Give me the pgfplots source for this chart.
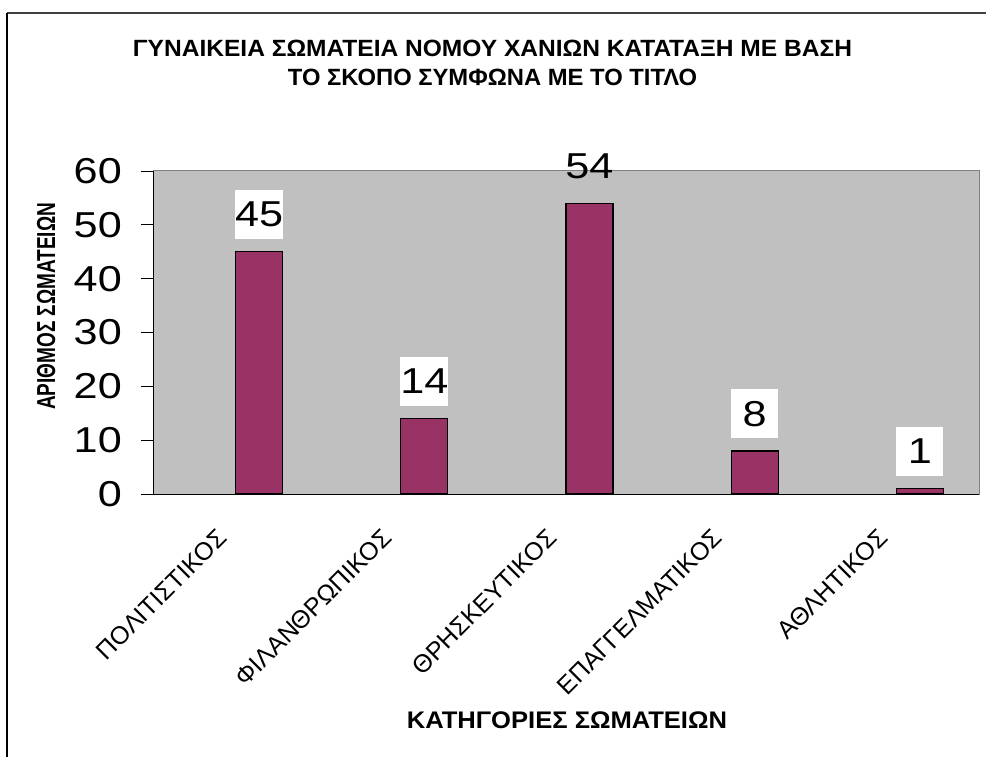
\documentclass[border=0pt]{standalone}
\usepackage{pgfplots}
\pgfplotsset{compat=1.18}
\usepackage{fontspec}
\setmainfont{Liberation Sans}
\newfontfamily\widefont{Liberation Sans}[FakeStretch=1.2]
\definecolor{plotgray}{HTML}{C0C0C0}
\definecolor{barcol}{HTML}{993366}
\definecolor{framegray}{HTML}{404040}
\newcommand{\ticksize}{\widefont\fontsize{36}{36}\selectfont}
\begin{document}
\begin{tikzpicture}[x=1pt,y=1pt]
\useasboundingbox (0,0) rectangle (986,756);
\fill[white] (0,0) rectangle (986,756);
\draw[framegray, line width=2pt] (7,743) -- (1000,743);
\draw[black, line width=1.5pt] (7,743) -- (7,-10);
% title
\node[anchor=base] at (492.5,699) {\resizebox{719pt}{\height}{\bfseries\fontsize{23.5}{26}\selectfont ΓΥΝΑΙΚΕΙΑ ΣΩΜΑΤΕΙΑ ΝΟΜΟΥ ΧΑΝΙΩΝ ΚΑΤΑΤΑΞΗ ΜΕ ΒΑΣΗ}};
\node[anchor=base] at (492.5,670) {\resizebox{409pt}{\height}{\bfseries\fontsize{23.5}{26}\selectfont ΤΟ ΣΚΟΠΟ ΣΥΜΦΩΝΑ ΜΕ ΤΟ ΤΙΤΛΟ}};
% y label
\node[anchor=base, rotate=90] at (55,449.5) {\resizebox{207pt}{\height}{\bfseries\fontsize{26}{28}\selectfont ΑΡΙΘΜΟΣ ΣΩΜΑΤΕΙΩΝ}};
% x label
\node[anchor=base] at (567,28) {\resizebox{320pt}{\height}{\bfseries\fontsize{24}{26}\selectfont ΚΑΤΗΓΟΡΙΕΣ ΣΩΜΑΤΕΙΩΝ}};
\begin{axis}[
  at={(153pt,262pt)}, anchor=south west,
  scale only axis, width=826pt, height=323pt,
  xmin=-0.5, xmax=4.5, ymin=0, ymax=60,
  axis lines=left,
  axis line style={-, black, line width=1pt},
  axis background/.style={fill=plotgray, draw=gray, line width=1pt},
  tick align=outside,
  major tick length=12pt,
  ytick={0,10,...,60},
  ytick style={black, line width=0.8pt},
  yticklabel style={font=\ticksize, inner sep=0pt, xshift=-19pt},
  /pgf/number format/assume math mode=true,
  xtick={0,1,2,3,4},
  xticklabels={ΠΟΛΙΤΙΣΤΙΚΟΣ,ΦΙΛΑΝΘΡΩΠΙΚΟΣ,ΘΡΗΣΚΕΥΤΙΚΟΣ,ΕΠΑΓΓΕΛΜΑΤΙΚΟΣ,ΑΘΛΗΤΙΚΟΣ},
  xtick style={draw=none},
  xticklabel style={font=\fontsize{25}{27}\selectfont, rotate=45, anchor=north east, inner sep=0pt, yshift=-1pt, xshift=-29pt},
  extra x ticks={-0.5,0.5,1.5,2.5,3.5,4.5},
  extra x tick labels={\empty,\empty,\empty,\empty,\empty,\empty},
  extra x tick style={draw=black, major tick length=8pt, line width=0.8pt},
  clip=false,
]
\addplot[ybar, bar width=47pt, bar shift=23.5pt, fill=barcol, draw=black, line width=1.2pt,
  nodes near coords,
  every node near coord/.append style={font=\ticksize, fill=white, inner sep=0pt, minimum width=47pt, minimum height=49pt, anchor=south, xshift=23.5pt, yshift=12pt, text=black}]
  coordinates {(0,45) (1,14) (3,8) (4,1)};
\addplot[ybar, bar width=47pt, bar shift=23.5pt, fill=barcol, draw=black, line width=1.2pt,
  nodes near coords,
  every node near coord/.append style={font=\ticksize, inner sep=0pt, minimum width=47pt, minimum height=49pt, anchor=south, xshift=23.5pt, yshift=12pt, text=black}]
  coordinates {(2,54)};
\end{axis}
\end{tikzpicture}
\end{document}
